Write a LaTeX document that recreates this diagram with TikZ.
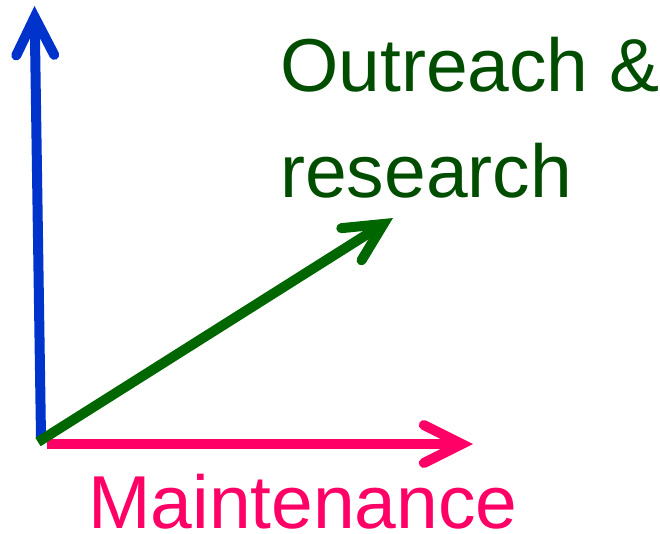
\documentclass[tikz,border=0pt]{standalone}
\usepackage{fontspec}
\setmainfont{Liberation Sans}
\usetikzlibrary{arrows.meta}
\definecolor{axisblue}{HTML}{0033CC}
\definecolor{axispink}{HTML}{FF0066}
\definecolor{axisgreen}{HTML}{006600}
\definecolor{labelgreen}{HTML}{004D00}
\tikzset{
  axis/.style={line width=10pt,
    -{Straight Barb[length=38pt,width=38pt,line cap=round,line join=miter]}},
  label/.style={inner sep=0pt,anchor=base west,font=\fontsize{75}{90}\selectfont}
}
\begin{document}
\begin{tikzpicture}[x=1pt,y=-1pt]
  \useasboundingbox (0,0) rectangle (660,533);
  \coordinate (o) at (41,437);
  \coordinate (up) at (34.5,6);
  \coordinate (right) at (47,444);
  \coordinate (rightend) at (473,444);
  \coordinate (diag) at (38,442);
  \coordinate (diagend) at (393,218);
  \draw[axis,axisblue] (o) -- (up);
  \draw[axis,axispink] (right) -- (rightend);
  \draw[axis,axisgreen] (diag) -- (diagend);
  \node[label,text=labelgreen] (outreach) at (280,91) {Outreach \&};
  \node[label,text=labelgreen] (research) at (280,197) {research};
  \node[label,text=axispink] (maint) at (88,528) {Maintenance};
\end{tikzpicture}
\end{document}
